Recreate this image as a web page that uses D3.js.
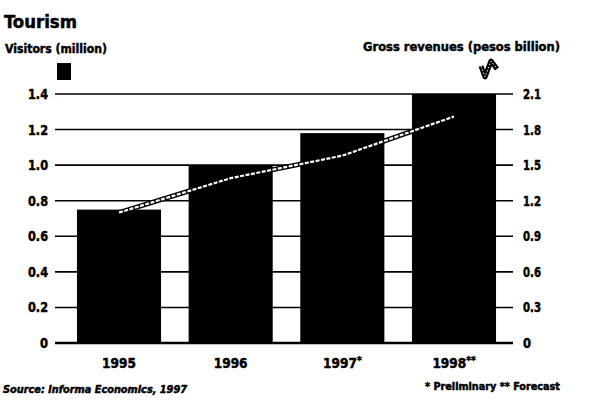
<!DOCTYPE html>
<html>
<head>
<meta charset="utf-8">
<script src="https://cdn.jsdelivr.net/npm/d3@7"></script>
<style>
  html, body { margin: 0; padding: 0; background: #fff; }
  svg { display: block; }
  text { font-family: "Liberation Sans Narrow", "DejaVu Sans Condensed", "Liberation Sans", sans-serif; font-weight: bold; fill: #000; stroke: #000; stroke-width: 0.45; }
</style>
</head>
<body>
<svg id="chart" width="597" height="406"></svg>
<script>
// Tourism: visitors (bars, left axis) and gross revenues (line, right axis)
const years = ["1995", "1996", "1997", "1998"];
const yearMarks = ["", "", "*", "**"];
const visitors = [0.75, 1.0, 1.18, 1.4];        // million
const revenues = [1.1, 1.39, 1.58, 1.91];       // pesos billion
const leftTicks = [0, 0.2, 0.4, 0.6, 0.8, 1.0, 1.2, 1.4];
const rightTicks = [0, 0.3, 0.6, 0.9, 1.2, 1.5, 1.8, 2.1];

const svg = d3.select("#chart");

const x = d3.scaleBand().domain(years).range([63, 510]).paddingInner(0.247).paddingOuter(0.125);
const yL = d3.scaleLinear().domain([0, 1.4]).range([343, 94]);
const yR = d3.scaleLinear().domain([0, 2.1]).range([343, 94]);

// gridlines behind the bars
svg.append("g").selectAll("line").data(leftTicks).join("line")
  .attr("x1", 55).attr("x2", 513)
  .attr("y1", d => yL(d)).attr("y2", d => yL(d))
  .attr("stroke", "#000").attr("stroke-width", d => d === 0 ? 2.5 : 1.6);

// left axis labels
svg.append("g").selectAll("text").data(leftTicks).join("text")
  .attr("x", 48).attr("y", d => yL(d) + 5)
  .attr("text-anchor", "end").attr("font-size", 13.5)
  .attr("textLength", d => d === 0 ? 8 : 20).attr("lengthAdjust", "spacingAndGlyphs")
  .text(d => d === 0 ? "0" : d3.format(".1f")(d));

// right axis labels
svg.append("g").selectAll("text").data(rightTicks).join("text")
  .attr("x", 523).attr("y", d => yR(d) + 5)
  .attr("text-anchor", "start").attr("font-size", 13.5)
  .attr("textLength", d => d === 0 ? 8 : 18).attr("lengthAdjust", "spacingAndGlyphs")
  .text(d => d === 0 ? "0" : d3.format(".1f")(d));

// bars
svg.append("g").selectAll("rect").data(years).join("rect")
  .attr("x", d => x(d)).attr("width", x.bandwidth())
  .attr("y", (d, i) => yL(visitors[i]))
  .attr("height", (d, i) => yL(0) - yL(visitors[i]))
  .attr("fill", "#000");

// revenue line: black casing with white dashes
const line = d3.line()
  .x((d, i) => x(years[i]) + x.bandwidth() / 2)
  .y(d => yR(d));
svg.append("path").datum(revenues).attr("d", line)
  .attr("fill", "none").attr("stroke", "#000").attr("stroke-width", 5);
svg.append("path").datum(revenues).attr("d", line)
  .attr("fill", "none").attr("stroke", "#fff").attr("stroke-width", 2.2)
  .attr("stroke-dasharray", "4,1.5");

// x labels with preliminary / forecast marks
const xl = svg.append("g").selectAll("text").data(years).join("text")
  .attr("x", d => x(d) + x.bandwidth() / 2)
  .attr("y", 368).attr("text-anchor", "middle").attr("font-size", 13.5);
xl.append("tspan").text(d => d);
xl.append("tspan").attr("dy", -4).attr("font-size", 10).text((d, i) => yearMarks[i]);

// titles
svg.append("text").attr("x", 4).attr("y", 28).attr("font-size", 17)
  .attr("textLength", 73).attr("lengthAdjust", "spacingAndGlyphs").text("Tourism");
svg.append("text").attr("x", 5).attr("y", 53).attr("font-size", 12.5)
  .attr("textLength", 102).attr("lengthAdjust", "spacingAndGlyphs").text("Visitors (million)");
svg.append("text").attr("x", 363).attr("y", 51).attr("font-size", 12.5)
  .attr("textLength", 197).attr("lengthAdjust", "spacingAndGlyphs").text("Gross revenues (pesos billion)");

// legend keys
svg.append("rect").attr("x", 57).attr("y", 63).attr("width", 14).attr("height", 17).attr("fill", "#000");
const key = d3.line()([[481, 66], [485, 77], [491, 61], [497, 69]]);
svg.append("path").attr("d", key).attr("fill", "none").attr("stroke", "#000")
  .attr("stroke-width", 5).attr("stroke-linejoin", "round");
svg.append("path").attr("d", key).attr("fill", "none").attr("stroke", "#fff")
  .attr("stroke-width", 1).attr("stroke-dasharray", "1.5,2");

// notes
svg.append("text").attr("x", 425).attr("y", 390).attr("font-size", 10)
  .attr("textLength", 135).attr("lengthAdjust", "spacingAndGlyphs").text("* Preliminary  ** Forecast");
svg.append("text").attr("x", 3).attr("y", 393).attr("font-size", 10).attr("font-style", "italic")
  .attr("textLength", 184).attr("lengthAdjust", "spacingAndGlyphs").text("Source: Informa Economics, 1997");
</script>
</body>
</html>
